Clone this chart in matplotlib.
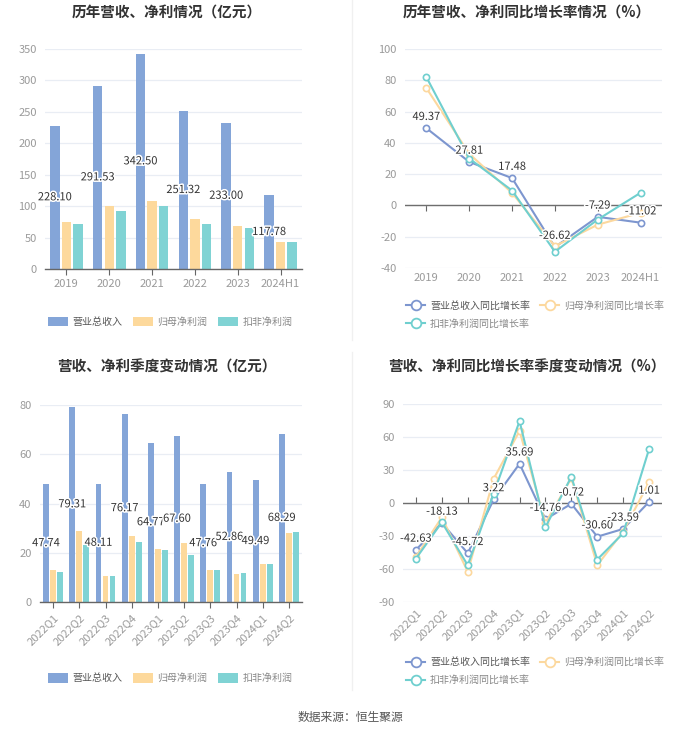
import matplotlib
matplotlib.use('Agg')
import matplotlib.pyplot as plt
import numpy as np
import matplotlib.patheffects as pe
from matplotlib.lines import Line2D
from matplotlib.patches import Patch

plt.rcParams['font.family'] = ['Noto Sans CJK SC', 'DejaVu Sans']
plt.rcParams['axes.unicode_minus'] = False

# ---------------- data ----------------
years = ['2019', '2020', '2021', '2022', '2023', '2024H1']
rev_y = [228.10, 291.53, 342.50, 251.32, 233.00, 117.78]
np_y = [75, 100, 108, 79, 69, 43]
kf_y = [71, 92, 101, 71, 65, 43]

rev_g_y = [49.37, 27.81, 17.48, -26.62, -7.29, -11.02]
np_g_y = [75, 33, 8, -26, -12.3, -4.7]
kf_g_y = [82, 30, 9.5, -29.6, -9, 8.1]

quarters = ['2022Q1', '2022Q2', '2022Q3', '2022Q4', '2023Q1', '2023Q2',
            '2023Q3', '2023Q4', '2024Q1', '2024Q2']
rev_q = [47.74, 79.31, 48.11, 76.17, 64.77, 67.60, 47.76, 52.86, 49.49, 68.29]
np_q = [13, 29, 10.5, 27, 21.5, 24, 12.8, 11.5, 15.5, 28]
kf_q = [12.3, 23, 10.5, 24.5, 21.3, 19, 13, 11.7, 15.5, 28.5]

rev_g_q = [-42.63, -18.13, -45.72, 3.22, 35.69, -14.76, -0.72, -30.60, -23.59, 1.01]
np_g_q = [-49, -13, -62.5, 22, 65.5, -18, 22.5, -56.5, -26, 19]
kf_g_q = [-50.5, -17.5, -56.6, 8.6, 74.4, -22, 23.9, -51.4, -27.5, 49]

bar_labels = ['营业总收入', '归母净利润', '扣非净利润']
line_labels = ['营业总收入同比增长率', '归母净利润同比增长率', '扣非净利润同比增长率']

C_BLUE = '#84a5d8'
C_ORANGE = '#fdd99c'
C_TEAL = '#80d3d4'
L_BLUE = '#7d96cf'
L_ORANGE = '#fcd89e'
L_TEAL = '#6fcfcf'
GRID = '#e9edf4'
TICK = '#9a9a9a'
TXT = '#333333'

W, H = 700, 734
fig = plt.figure(figsize=(7.0, 7.34), dpi=100)


def ax_at(x0, x1, ytop, ybot):
    return fig.add_axes([x0 / W, 1 - ybot / H, (x1 - x0) / W, (ybot - ytop) / H])


def style(ax, ymin, ymax, step):
    ax.set_ylim(ymin, ymax)
    ax.set_yticks(np.arange(ymin, ymax + 0.1, step))
    ax.grid(axis='y', color=GRID, linewidth=0.9)
    ax.set_axisbelow(True)
    for s in ['top', 'right', 'left']:
        ax.spines[s].set_visible(False)
    ax.tick_params(axis='y', length=0, labelsize=8, labelcolor=TICK, pad=6)
    ax.tick_params(axis='x', labelsize=8, labelcolor=TICK, color='#666666',
                   length=4, width=0.8)


stroke = [pe.withStroke(linewidth=2.2, foreground='white')]


def bar_chart(ax, cats, a, b, c, ymax, step, rotate):
    x = np.arange(len(cats))
    w = 0.22
    off = 0.27
    ax.bar(x - off, a, w, color=C_BLUE, zorder=2)
    ax.bar(x, b, w, color=C_ORANGE, zorder=2)
    ax.bar(x + off, c, w, color=C_TEAL, zorder=2)
    ax.set_xlim(-0.5, len(cats) - 0.5)
    style(ax, 0, ymax, step)
    ax.spines['bottom'].set_color('#666666')
    ax.spines['bottom'].set_linewidth(1.0)
    ax.set_xticks(x)
    if rotate:
        ax.set_xticklabels(cats, rotation=45, ha='right', rotation_mode='anchor')
    else:
        ax.set_xticklabels(cats)
    for xi, v in zip(x, a):
        ax.text(xi - off, v / 2, f'{v:.2f}', ha='center', va='center',
                fontsize=8, color=TXT, path_effects=stroke, zorder=5)


def line_chart(ax, cats, a, b, c, ymin, ymax, step, rotate):
    x = np.arange(len(cats))
    ax.axhline(0, color='#6e6e6e', linewidth=1.0, zorder=2)
    kw = dict(marker='o', markersize=4.5, markerfacecolor='white',
              markeredgewidth=1.2, linewidth=1.5, zorder=3)
    ax.plot(x, a, color=L_BLUE, **kw)
    ax.plot(x, b, color=L_ORANGE, **kw)
    ax.plot(x, c, color=L_TEAL, **kw)
    ax.set_xlim(-0.5, len(cats) - 0.5)
    style(ax, ymin, ymax, step)
    ax.spines['bottom'].set_visible(False)
    ax.set_xticks(x)
    ax.tick_params(axis='x', length=0)
    if rotate:
        ax.set_xticklabels(cats, rotation=45, ha='right', rotation_mode='anchor')
    else:
        ax.set_xticklabels(cats)
    frac = (0 - ymin) / (ymax - ymin)
    sec = ax.secondary_xaxis(frac)
    sec.set_xticks(x)
    sec.set_xticklabels([''] * len(x))
    sec.tick_params(axis='x', direction='out', length=4, width=0.8,
                    color='#666666', labelbottom=False, labeltop=False)
    for s in sec.spines.values():
        s.set_visible(False)
    for xi, v in zip(x, a):
        ax.annotate(f'{v:.2f}', (xi, v), xytext=(0, 4.5), textcoords='offset points',
                    ha='center', va='bottom', fontsize=8, color=TXT,
                    path_effects=stroke, zorder=6)


def bar_legend(cx, cy):
    handles = [Patch(facecolor=col, edgecolor='none') for col in (C_BLUE, C_ORANGE, C_TEAL)]
    leg = fig.legend(handles, bar_labels, loc='center', bbox_to_anchor=(cx / W, 1 - cy / H),
                     ncol=3, frameon=False, fontsize=7.2, handlelength=2.0,
                     handleheight=1.1, handletextpad=0.5, columnspacing=1.0, borderpad=0)
    for i, t in enumerate(leg.get_texts()):
        t.set_color('#555555' if i == 0 else '#888888')


def line_legend(lx, ty):
    cols = [L_BLUE, L_ORANGE, L_TEAL]
    hs = [Line2D([], [], color=col, marker='o', markersize=7, markerfacecolor='white',
                 markeredgewidth=1.3, linewidth=1.5) for col in cols]
    order = [0, 2, 1]
    leg = fig.legend([hs[i] for i in order], [line_labels[i] for i in order],
                     loc='upper left', bbox_to_anchor=(lx / W, 1 - ty / H),
                     ncol=2, frameon=False, fontsize=7.2, handlelength=1.9,
                     handletextpad=0.5, columnspacing=1.0, labelspacing=0.8, borderpad=0)
    for t, i in zip(leg.get_texts(), order):
        t.set_color('#555555' if i == 0 else '#888888')


# top-left
ax1 = ax_at(45, 302, 49, 269)
bar_chart(ax1, years, rev_y, np_y, kf_y, 350, 50, False)
fig.text(167 / W, 1 - 13 / H, '历年营收、净利情况（亿元）', ha='center', va='center',
         fontsize=10.5, fontweight='bold', color=TXT)
bar_legend(170, 322)

# top-right
ax2 = ax_at(405, 662, 49, 268)
line_chart(ax2, years, rev_g_y, np_g_y, kf_g_y, -40, 100, 20, False)
fig.text(527 / W, 1 - 13 / H, '历年营收、净利同比增长率情况（%）', ha='center', va='center',
         fontsize=10.5, fontweight='bold', color=TXT)
line_legend(401, 296)

# bottom-left
ax3 = ax_at(40, 302, 405, 602)
bar_chart(ax3, quarters, rev_q, np_q, kf_q, 80, 20, True)
fig.text(167 / W, 1 - 367 / H, '营收、净利季度变动情况（亿元）', ha='center', va='center',
         fontsize=10.5, fontweight='bold', color=TXT)
bar_legend(170, 678)

# bottom-right
ax4 = ax_at(403, 662, 404, 602)
line_chart(ax4, quarters, rev_g_q, np_g_q, kf_g_q, -90, 90, 30, True)
fig.text(527 / W, 1 - 367 / H, '营收、净利同比增长率季度变动情况（%）', ha='center', va='center',
         fontsize=10.5, fontweight='bold', color=TXT)
line_legend(401, 652)

# separators
fig.add_artist(Line2D([352 / W, 352 / W], [1 - 0 / H, 1 - 340 / H], color='#f0f0f0', linewidth=1))
fig.add_artist(Line2D([352 / W, 352 / W], [1 - 352 / H, 1 - 690 / H], color='#f0f0f0', linewidth=1))

fig.text(350 / W, 1 - 717 / H, '数据来源：恒生聚源', ha='center', va='center',
         fontsize=8.5, color='#555555')

fig.savefig('out.png', dpi=100, facecolor='white')
